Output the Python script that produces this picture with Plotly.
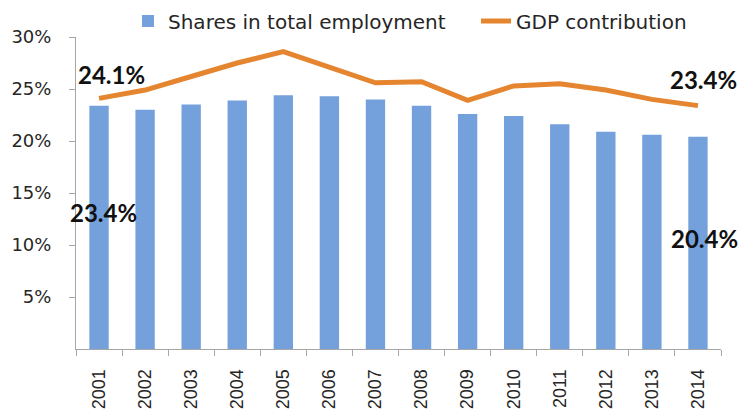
import plotly.graph_objects as go

# Data
years = ["2001", "2002", "2003", "2004", "2005", "2006", "2007",
         "2008", "2009", "2010", "2011", "2012", "2013", "2014"]
employment_share = [23.4, 23.0, 23.5, 23.9, 24.4, 24.3, 24.0,
                    23.4, 22.6, 22.4, 21.6, 20.9, 20.6, 20.4]
gdp_contribution = [24.1, 24.9, 26.2, 27.5, 28.6, 27.1, 25.6,
                    25.7, 23.9, 25.3, 25.5, 24.9, 24.0, 23.4]
y_ticks = [5, 10, 15, 20, 25, 30]
y_tick_labels = ["5%", "10%", "15%", "20%", "25%", "30%"]

BAR_BLUE = "#74A1DC"
LINE_ORANGE = "#E5852F"
AXIS_GREY = "#A6A6A6"
TICK_FONT = "DejaVu Sans"
LABEL_FONT = "Lato"

fig = go.Figure()

# non-breaking spaces widen the first legend entry so the second sits further right
fig.add_trace(go.Bar(
    x=years, y=employment_share,
    name="Shares in total employment" + "\u00a0" * 4,
    marker=dict(color=BAR_BLUE, line=dict(width=0)),
    width=0.42,
))

fig.add_trace(go.Scatter(
    x=years, y=gdp_contribution,
    name="GDP contribution",
    mode="lines",
    line=dict(color=LINE_ORANGE, width=5),
))

# category axes take positional indices for annotations
first, last = 0, len(years) - 1
label_font = dict(family=LABEL_FONT, size=24, color="#111111")
annotations = [
    # first and last GDP values, above the line
    dict(x=first, y=gdp_contribution[first], text=f"<b>{gdp_contribution[first]:.1f}%</b>",
         xshift=12, yshift=24),
    dict(x=last, y=gdp_contribution[last], text=f"<b>{gdp_contribution[last]:.1f}%</b>",
         xshift=6, yshift=26),
    # first and last employment shares, inside the bars
    dict(x=first, y=13.1, text=f"<b>{employment_share[first]:.1f}%</b>", xshift=4),
    dict(x=last, y=10.6, text=f"<b>{employment_share[last]:.1f}%</b>", xshift=7),
]
for a in annotations:
    fig.add_annotation(xref="x", yref="y", showarrow=False, font=label_font, **a)

fig.update_layout(
    width=744, height=410,
    margin=dict(l=76, r=23, t=37, b=61, autoexpand=False),
    plot_bgcolor="white", paper_bgcolor="white",
    showlegend=True,
    legend=dict(
        orientation="h",
        xref="container", x=128 / 744, xanchor="left",
        yref="container", y=1 - 21 / 410, yanchor="middle",
        font=dict(family=TICK_FONT, size=20, color="#262626"),
        itemwidth=30,
        traceorder="normal", bgcolor="rgba(0,0,0,0)",
    ),
)

fig.update_xaxes(
    type="category",
    range=[-0.5, len(years) - 0.5],
    showline=True, linecolor=AXIS_GREY, linewidth=1,
    ticks="outside", tickson="boundaries", ticklen=6, tickcolor=AXIS_GREY,
    tickangle=-90,
    tickfont=dict(family="Liberation Sans", size=18, color="#262626"),
    ticklabelstandoff=12,
    showgrid=False, zeroline=False,
)

fig.update_yaxes(
    range=[0, 30],
    tickvals=y_ticks, ticktext=y_tick_labels,
    showline=True, linecolor=AXIS_GREY, linewidth=1,
    ticks="outside", ticklen=6, tickcolor=AXIS_GREY,
    tickfont=dict(family=TICK_FONT, size=18, color="#262626"),
    ticklabelstandoff=14,
    showgrid=False, zeroline=False,
)

fig.write_html("out.html")
